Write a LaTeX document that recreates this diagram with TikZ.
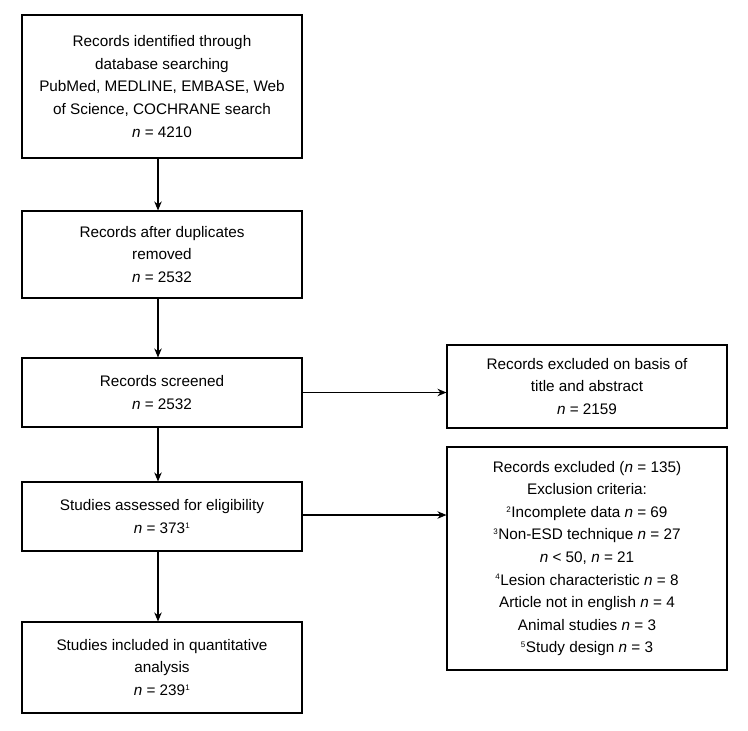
\documentclass[tikz,border=0pt]{standalone}
\usepackage{fontspec}
\setmainfont{Liberation Sans}
\usetikzlibrary{arrows.meta}
\newcommand{\nn}{\textit{n}}
\newcommand{\sps}[1]{\textsuperscript{\footnotesize #1}}
\begin{document}
\begin{tikzpicture}[x=1pt,y=1pt,
  box/.style={draw,line width=1.1pt,rectangle,align=center,inner sep=0pt,
    font=\fontsize{15.3}{22.6}\selectfont},
  arr/.style={line width=1.1pt,-{Stealth[length=9pt,width=7.5pt]}}]
\useasboundingbox (0,0) rectangle (748,-731);
\node[box,minimum width=280,minimum height=143] (b1) at (162,-86.5)
  {Records identified through\\database searching\\PubMed, MEDLINE, EMBASE, Web\\of Science, COCHRANE search\\\nn{} = 4210};
\node[box,minimum width=280,minimum height=87] (b2) at (162,-254.5)
  {Records after duplicates\\removed\\\nn{} = 2532};
\node[box,minimum width=280,minimum height=69] (b3) at (162,-392.5)
  {Records screened\\\nn{} = 2532};
\node[box,minimum width=280,minimum height=69] (b4) at (162,-516.5)
  {Studies assessed for eligibility\\\nn{} = 373\sps{1}};
\node[box,minimum width=280,minimum height=91] (b5) at (162,-667.5)
  {Studies included in quantitative\\analysis\\\nn{} = 239\sps{1}};
\node[box,minimum width=280,minimum height=83] (r1) at (587,-386.5)
  {Records excluded on basis of\\title and abstract\\\nn{} = 2159};
\node[box,minimum width=280,minimum height=223] (r2) at (587,-558.5)
  {Records excluded (\nn{} = 135)\\Exclusion criteria:\\\sps{2}Incomplete data \nn{} = 69\\\sps{3}Non-ESD technique \nn{} = 27\\\nn{} < 50, \nn{} = 21\\\sps{4}Lesion characteristic \nn{} = 8\\Article not in english \nn{} = 4\\Animal studies \nn{} = 3\\\sps{5}Study design \nn{} = 3};
\draw[arr] ([xshift=-4pt]b1.south) -- ([xshift=-4pt]b2.north);
\draw[arr] ([xshift=-4pt]b2.south) -- ([xshift=-4pt]b3.north);
\draw[arr] ([xshift=-4pt]b3.south) -- ([xshift=-4pt]b4.north);
\draw[arr] ([xshift=-4pt]b4.south) -- ([xshift=-4pt]b5.north);
\draw[arr] (b3.east) -- (b3.east -| r1.west);
\draw[arr] ([yshift=1.5pt]b4.east) -- ([yshift=1.5pt]b4.east -| r2.west);
\end{tikzpicture}
\end{document}
